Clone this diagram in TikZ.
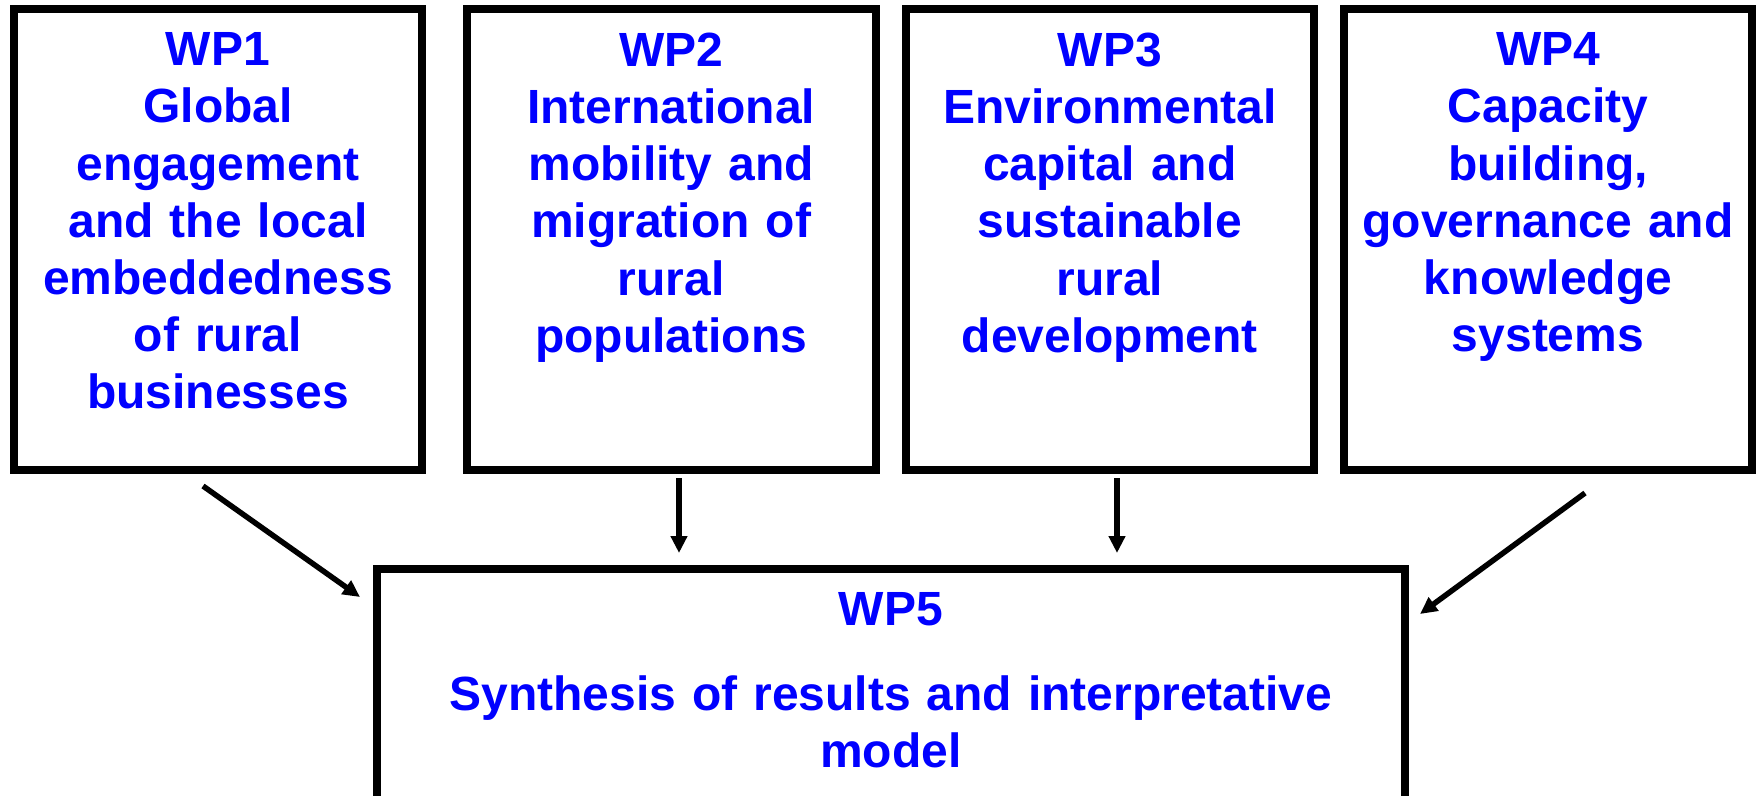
\documentclass[tikz,border=0pt]{standalone}
\usepackage{fontspec}
\setmainfont{Liberation Sans}
\usetikzlibrary{arrows.meta}
\definecolor{wpblue}{RGB}{0,0,255}
\begin{document}
\begin{tikzpicture}[x=1pt,y=-1pt,
  wpbox/.style={draw=black, line width=8pt, outer sep=0pt, inner sep=0pt, anchor=north west},
  wptext/.style={text=wpblue, font=\fontsize{48}{57.2}\selectfont\bfseries, align=center, anchor=north, inner sep=0pt, text width=404pt},
  arr/.style={line width=5.5pt, -{Triangle[length=17pt,width=16pt]}}]
\useasboundingbox (0,0) rectangle (1758,795);
\clip (0,0) rectangle (1758,795);
\fill[white] (0,0) rectangle (1758,795);
% boxes
\node[wpbox, minimum width=408pt, minimum height=461pt] (wp1) at (14,9) {};
\node[wpbox, minimum width=408.5pt, minimum height=461pt] (wp2) at (467,9) {};
\node[wpbox, minimum width=408.5pt, minimum height=461pt] (wp3) at (905.5,9) {};
\node[wpbox, minimum width=408pt, minimum height=461pt] (wp4) at (1344,9) {};
\node[wpbox, minimum width=1027.5pt, minimum height=230.5pt] (wp5) at (377,569) {};
% texts
\node[wptext] (t1) at ([yshift=-23.5pt]wp1.north) {WP1\\Global\\engagement\\and the local\\embeddedness\\of rural\\businesses};
\node[wptext] (t2) at ([yshift=-23.5pt]wp2.north) {WP2\\International\\mobility and\\migration of\\rural\\populations};
\node[wptext] (t3) at ([yshift=-23.5pt]wp3.north) {WP3\\Environmental\\capital and\\sustainable\\rural\\development};
\node[wptext] (t4) at ([yshift=-23.5pt]wp4.north) {WP4\\Capacity\\building,\\governance and\\knowledge\\systems};
\node[wptext, text width=1000pt] (t5) at ([yshift=-23pt]wp5.north) {WP5\\[27.8pt]Synthesis of results and interpretative\\model};
% arrows
\coordinate (a1s) at (203,486); \coordinate (a1e) at (360,597);
\coordinate (a2s) at (679,478); \coordinate (a2e) at (679,553);
\coordinate (a3s) at (1117,478); \coordinate (a3e) at (1117,553);
\coordinate (a4s) at (1585,493); \coordinate (a4e) at (1420,614);
\draw[arr] (a1s) -- (a1e);
\draw[arr] (a2s) -- (a2e);
\draw[arr] (a3s) -- (a3e);
\draw[arr] (a4s) -- (a4e);
\end{tikzpicture}
\end{document}
